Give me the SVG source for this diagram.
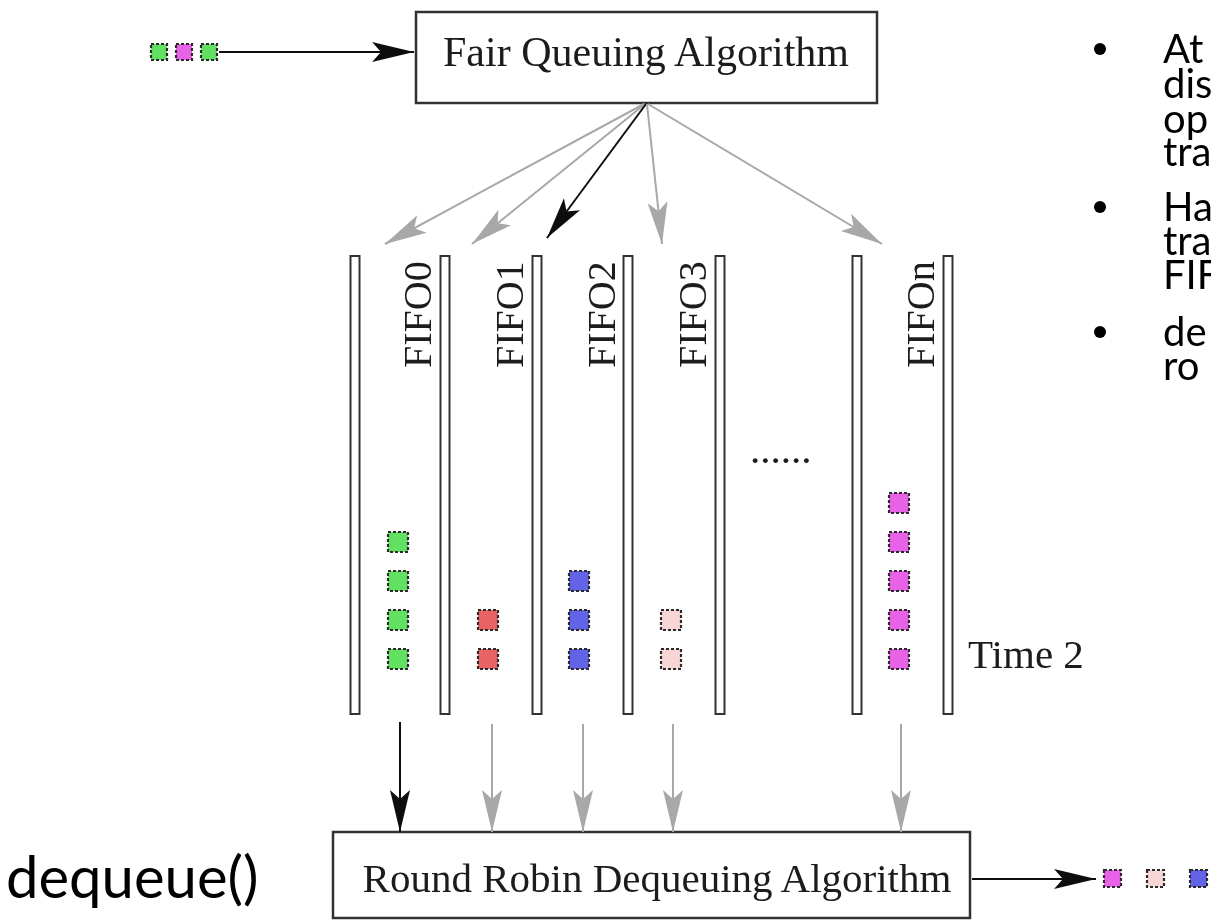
<svg xmlns="http://www.w3.org/2000/svg" width="1211" height="923" viewBox="0 0 1211 923">
  <style>
    .serif { font-family: "Liberation Serif", "Times New Roman", serif; fill: #1a1a1a; }
    .sans { font-family: Lato, "Open Sans", "Liberation Sans", sans-serif; fill: #000; }
    .box { fill: #fff; stroke: #333; stroke-width: 2.5; }
    .bar { fill: #fff; stroke: #333; stroke-width: 2; }
    .pk { stroke: #2a2a2a; stroke-width: 2.2; stroke-dasharray: 3 2; }
    .green { fill: #62e062; }
    .pink { fill: #e862e8; }
    .red { fill: #e86464; }
    .blue { fill: #6464e8; }
    .pale { fill: #f8d6d6; }
    .grey { stroke: #a8a8a8; stroke-width: 2; fill: none; }
    .dark { stroke: #111; stroke-width: 2; fill: none; }
  </style>
  <defs>
    <marker id="headGrey" viewBox="-44 -12 46 24" refX="0" refY="0" markerWidth="46" markerHeight="24" markerUnits="userSpaceOnUse" orient="auto">
      <path d="M0,0 L-42,-10 L-33,0 L-42,10 Z" fill="#a8a8a8"/>
    </marker>
    <marker id="headDark" viewBox="-44 -12 46 24" refX="0" refY="0" markerWidth="46" markerHeight="24" markerUnits="userSpaceOnUse" orient="auto">
      <path d="M0,0 L-42,-10 L-33,0 L-42,10 Z" fill="#111"/>
    </marker>
    <filter id="soft" x="-2%" y="-2%" width="104%" height="104%">
      <feGaussianBlur stdDeviation="0.6"/>
    </filter>
  </defs>

  <rect width="1211" height="923" fill="#fff"/>

  <g id="diagram" filter="url(#soft)">
    <!-- incoming packets -->
    <g id="input-packets">
      <rect class="pk green" x="151" y="44" width="16" height="16"/>
      <rect class="pk pink" x="176" y="44" width="16" height="16"/>
      <rect class="pk green" x="201" y="44" width="16" height="16"/>
    </g>

    <g id="fair-queuing">
      <rect class="box" x="416" y="12" width="461" height="91"/>
      <text class="serif" x="646" y="66" font-size="42" text-anchor="middle">Fair Queuing Algorithm</text>
    </g>

    <!-- FIFO lanes -->
    <g id="fifo-bars">
      <rect class="bar" x="350.5" y="256" width="9" height="458"/>
      <rect class="bar" x="440.5" y="256" width="9" height="458"/>
      <rect class="bar" x="532.5" y="256" width="9" height="458"/>
      <rect class="bar" x="623.5" y="256" width="9" height="458"/>
      <rect class="bar" x="715.5" y="256" width="9" height="458"/>
      <rect class="bar" x="852.5" y="256" width="9" height="458"/>
      <rect class="bar" x="943.5" y="256" width="9" height="458"/>
    </g>

    <g id="fifo0">
      <text class="serif" font-size="40" transform="translate(431,368) rotate(-90)">FIFO0</text>
      <rect class="pk green" x="388" y="532" width="20" height="20"/>
      <rect class="pk green" x="388" y="571" width="20" height="20"/>
      <rect class="pk green" x="388" y="610" width="20" height="20"/>
      <rect class="pk green" x="388" y="649" width="20" height="20"/>
    </g>
    <g id="fifo1">
      <text class="serif" font-size="40" transform="translate(523,368) rotate(-90)">FIFO1</text>
      <rect class="pk red" x="478" y="610" width="20" height="20"/>
      <rect class="pk red" x="478" y="649" width="20" height="20"/>
    </g>
    <g id="fifo2">
      <text class="serif" font-size="40" transform="translate(615,368) rotate(-90)">FIFO2</text>
      <rect class="pk blue" x="569" y="571" width="20" height="20"/>
      <rect class="pk blue" x="569" y="610" width="20" height="20"/>
      <rect class="pk blue" x="569" y="649" width="20" height="20"/>
    </g>
    <g id="fifo3">
      <text class="serif" font-size="40" transform="translate(706,368) rotate(-90)">FIFO3</text>
      <rect class="pk pale" x="661" y="610" width="20" height="20"/>
      <rect class="pk pale" x="661" y="649" width="20" height="20"/>
    </g>
    <g id="fifo-gap">
      <text class="serif" x="750" y="463" font-size="41">......</text>
    </g>
    <g id="fifon">
      <text class="serif" font-size="40" transform="translate(934,368) rotate(-90)">FIFOn</text>
      <rect class="pk pink" x="889" y="493" width="20" height="20"/>
      <rect class="pk pink" x="889" y="532" width="20" height="20"/>
      <rect class="pk pink" x="889" y="571" width="20" height="20"/>
      <rect class="pk pink" x="889" y="610" width="20" height="20"/>
      <rect class="pk pink" x="889" y="649" width="20" height="20"/>
    </g>
    <g id="time-label">
      <text class="serif" x="968" y="668" font-size="41">Time 2</text>
    </g>

    <g id="round-robin">
      <rect class="box" x="333" y="832" width="637" height="86"/>
      <text class="serif" x="657" y="892" font-size="41" text-anchor="middle">Round Robin Dequeuing Algorithm</text>
    </g>

    <!-- outgoing packets -->
    <g id="output-packets">
      <rect class="pk pink" x="1104" y="870" width="17" height="17"/>
      <rect class="pk pale" x="1147" y="870" width="17" height="17"/>
      <rect class="pk blue" x="1190" y="870" width="17" height="17"/>
    </g>

    <g id="connectors">
      <line class="dark" x1="219" y1="52" x2="414" y2="52" marker-end="url(#headDark)"/>
      <line class="grey" x1="644" y1="104" x2="385" y2="244" marker-end="url(#headGrey)"/>
      <line class="grey" x1="645" y1="104" x2="472" y2="244" marker-end="url(#headGrey)"/>
      <line class="dark" x1="646" y1="104" x2="547" y2="238" marker-end="url(#headDark)"/>
      <line class="grey" x1="647" y1="104" x2="662" y2="244" marker-end="url(#headGrey)"/>
      <line class="grey" x1="648" y1="104" x2="882" y2="244" marker-end="url(#headGrey)"/>
      <line class="dark" x1="400" y1="722" x2="400" y2="832" marker-end="url(#headDark)"/>
      <line class="grey" x1="492" y1="724" x2="492" y2="832" marker-end="url(#headGrey)"/>
      <line class="grey" x1="583" y1="724" x2="583" y2="832" marker-end="url(#headGrey)"/>
      <line class="grey" x1="673" y1="724" x2="673" y2="832" marker-end="url(#headGrey)"/>
      <line class="grey" x1="901" y1="724" x2="901" y2="832" marker-end="url(#headGrey)"/>
      <line class="dark" x1="972" y1="879" x2="1096" y2="879" marker-end="url(#headDark)"/>
    </g>
  </g>

  <g id="caption">
    <text class="sans" x="6" y="898" font-size="58">dequeue()</text>
  </g>

  <g id="notes">
    <circle cx="1100" cy="49" r="6"/>
    <circle cx="1100" cy="207" r="6"/>
    <circle cx="1100" cy="332" r="6"/>
    <text class="sans" font-size="40" x="1163">
      <tspan x="1163" y="63">At</tspan>
      <tspan x="1163" y="98">dis</tspan>
      <tspan x="1163" y="133">op</tspan>
      <tspan x="1163" y="166">tra</tspan>
      <tspan x="1163" y="221">Ha</tspan>
      <tspan x="1163" y="255">tra</tspan>
      <tspan x="1163" y="289">FIF</tspan>
      <tspan x="1163" y="346">de</tspan>
      <tspan x="1163" y="380">ro</tspan>
    </text>
  </g>
</svg>
